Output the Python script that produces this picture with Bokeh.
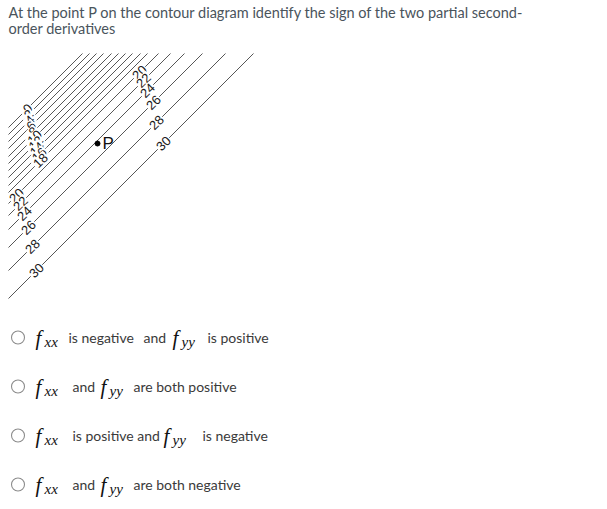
import math
from bokeh.plotting import figure
from bokeh.models import Range1d, ColumnDataSource
from bokeh.core.properties import value
from bokeh.embed import file_html
from bokeh.resources import INLINE

# ---------------- data ----------------
question_lines = [
    "At the point P on the contour diagram identify the sign of the two partial second-",
    "order derivatives",
]
# contour levels and the position of each straight level line (x + y, in px of the page)
contour_levels = [0, 2, 4, 6, 8, 10, 12, 14, 16, 18, 20, 22, 24, 26, 28, 30]
contour_offsets = [135, 142, 149, 156, 164, 171, 178, 185, 193, 200, 211, 223, 237, 255, 278, 306]

cluster_labels = [0, 2, 4, 6, 8, 10, 12, 14, 16, 18]
group_labels = [20, 22, 24, 26, 28, 30]
upper_label_y = [72, 80, 90, 102, 122, 143]
lower_label_y = [195, 203, 213, 227, 246, 270]

point_name = "P"
point_offset = 240  # x + y of point P
point_y = 143

option_y = [337, 386, 435, 484]
option_segments = [
    [("f", "xx", 35), ("is negative", None, 68), ("and", None, 143), ("f", "yy", 172), ("is positive", None, 207)],
    [("f", "xx", 35), ("and", None, 72), ("f", "yy", 100), ("are both positive", None, 133)],
    [("f", "xx", 35), ("is positive and", None, 72), ("f", "yy", 163), ("is negative", None, 202)],
    [("f", "xx", 35), ("and", None, 72), ("f", "yy", 100), ("are both negative", None, 133)],
]

# ---------------- figure ----------------
W, H = 600, 505
p = figure(width=W, height=H, output_backend="svg", toolbar_location=None,
           x_range=Range1d(0, W), y_range=Range1d(H, 0),
           min_border=0, outline_line_color=None)
p.xaxis.visible = False
p.yaxis.visible = False
p.grid.visible = False
p.background_fill_color = "white"
p.border_fill_color = "white"

# question text
p.text(x=[8, 8], y=[12, 28], text=question_lines, text_font=value("Lato"),
       text_font_size="14.5px", text_color="#4a545c", text_baseline="middle")

# contour lines: x + y = c, clipped to left edge x=8 and top edge y=53
left, top = 8, 53
xs = [[left, c - top] for c in contour_offsets]
ys = [[c - left, top] for c in contour_offsets]
p.multi_line(xs=xs, ys=ys, line_color="#444444", line_width=0.9)

lvl_to_c = dict(zip(contour_levels, contour_offsets))
ang = math.pi / 4

def add_labels(levels, ys_):
    src = ColumnDataSource(dict(
        x=[lvl_to_c[l] - y for l, y in zip(levels, ys_)],
        y=ys_, t=[str(l) for l in levels]))
    p.text(x="x", y="y", text="t", source=src, angle=ang,
           text_font=value("Liberation Sans"), text_font_size="13px",
           text_color="#1a1a1a", text_align="center", text_baseline="middle",
           background_fill_color="white", padding=1)

add_labels(group_labels, upper_label_y)
add_labels(group_labels, lower_label_y)
n = len(cluster_labels)
cluster_y = [108 + i * (160 - 108) / (n - 1) for i in range(n)]
add_labels(cluster_labels, cluster_y)

# point P
p.scatter(x=[point_offset - point_y], y=[point_y], size=5, color="black")
p.text(x=[point_offset - point_y + 5], y=[point_y], text=[point_name],
       text_font=value("Liberation Sans"), text_font_size="17px",
       text_color="#111111", text_baseline="middle")

# options
p.scatter(x=[17.5] * len(option_y), y=option_y, marker="circle", size=13,
          fill_color="white", line_color="#8c8c8c", line_width=1.1)
for oy, segs in zip(option_y, option_segments):
    for main, sub, x0 in segs:
        if sub is None:
            p.text(x=[x0], y=[oy], text=[main], text_font=value("Lato"),
                   text_font_size="14px", text_color="#3a3a3a", text_baseline="middle")
        else:
            p.text(x=[x0], y=[oy], text=[main], text_font=value("Liberation Serif"),
                   text_font_style="italic", text_font_size="21px",
                   text_color="#111111", text_baseline="middle")
            p.text(x=[x0 + 9], y=[oy + 4], text=[sub], text_font=value("Liberation Serif"),
                   text_font_style="italic", text_font_size="15px",
                   text_color="#111111", text_baseline="middle")

open("out.html", "w").write(file_html(p, INLINE))
